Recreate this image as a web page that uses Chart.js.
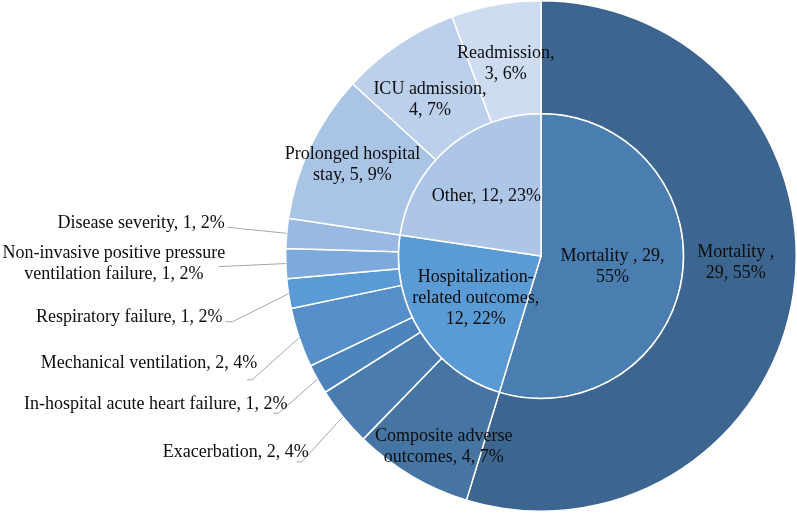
<!DOCTYPE html>
<html>
<head>
<meta charset="utf-8">
<script src="https://cdn.jsdelivr.net/npm/chart.js@4"></script>
<style>
  html, body { margin: 0; padding: 0; background: #fff; }
  canvas { display: block; }
</style>
</head>
<body>
<canvas id="myChart" width="797" height="513"></canvas>
<script>
// inner ring: outcome groups
const groupLabels = ['Mortality ', 'Hospitalization-related outcomes', 'Other'];
const groupCounts = [29, 12, 12];
const groupPercents = [55, 22, 23];

// outer ring: individual outcomes
const outcomeLabels = [
  'Mortality ', 'Composite adverse outcomes', 'Exacerbation', 'In-hospital acute heart failure',
  'Mechanical ventilation', 'Respiratory failure', 'Non-invasive positive pressure ventilation failure',
  'Disease severity', 'Prolonged hospital stay', 'ICU admission', 'Readmission'
];
const outcomeCounts = [29, 4, 2, 1, 2, 1, 1, 1, 5, 4, 3];
const outcomePercents = [55, 7, 4, 2, 4, 2, 2, 2, 9, 7, 6];

const groupColors = ['#4A7EB1', '#5B9BD5', '#ADC5E6'];
const outcomeColors = ['#3C6690', '#4675A4', '#4A7CAF', '#4E84BC', '#558EC9', '#5B9BD5',
  '#7DA9DC', '#99B9E2', '#AAC4E6', '#BCD0EC', '#CDDCF0'];

// label placement (offsets from the arc anchor point)
const groupLayout = [
  { mode: 'in', dx: 1, dy: 0, wrap: 110 },
  { mode: 'in', dx: -5, dy: 4, wrap: 132 },
  { mode: 'in', dx: -8, dy: -6, wrap: 200 }
];
const outcomeLayout = [
  { mode: 'in', dx: -2, dy: -23, wrap: 90 },
  { mode: 'in', dx: 4, dy: 19, wrap: 145 },
  { mode: 'out', align: 'right', tx: -34, ty: 35, ex: -41, ey: 45, tick: 5 },
  { mode: 'out', align: 'right', tx: -30, ty: 25, ex: -39, ey: 34, tick: 5 },
  { mode: 'out', align: 'right', tx: -42, ty: 26, ex: -47, ey: 42, tick: 5 },
  { mode: 'out', align: 'right', tx: -66, ty: 24, ex: -56, ey: 28, tick: 7 },
  { mode: 'out', align: 'center', tx: -172, ty: 0, ex: -67, ey: 3, tick: 0, wrap: 226 },
  { mode: 'out', align: 'right', tx: -62, ty: -10, ex: -59, ey: -6, tick: 0 },
  { mode: 'in', dx: -9, dy: -6, wrap: 140 },
  { mode: 'in', dx: 0, dy: 9, wrap: 116 },
  { mode: 'in', dx: 0, dy: 4, wrap: 102 }
];

const FONT = '18px "Liberation Serif", "Times New Roman", serif';
const LINE_H = 21;

function wrapText(ctx, text, maxWidth) {
  // split on spaces, and allow a break right after a hyphen
  const marked = text.replace(/-/g, '-\u0000');
  const words = marked.split(/ |\u0000/);
  const seps = [];
  marked.replace(/ |\u0000/g, (m) => { seps.push(m === ' ' ? ' ' : ''); return m; });
  const lines = [];
  let cur = words[0];
  for (let i = 1; i < words.length; i++) {
    const trial = cur + seps[i - 1] + words[i];
    if (ctx.measureText(trial).width > maxWidth) {
      lines.push(cur);
      cur = words[i];
    } else {
      cur = trial;
    }
  }
  lines.push(cur);
  return lines;
}

const sunburstLabels = {
  id: 'sunburstLabels',
  afterDatasetsDraw(chart) {
    const ctx = chart.ctx;
    ctx.save();
    ctx.font = FONT;
    ctx.fillStyle = '#0D0D0D';
    ctx.textBaseline = 'middle';
    const sets = [
      { meta: chart.getDatasetMeta(0), names: outcomeLabels, counts: outcomeCounts, pcts: outcomePercents, layout: outcomeLayout },
      { meta: chart.getDatasetMeta(1), names: groupLabels, counts: groupCounts, pcts: groupPercents, layout: groupLayout }
    ];
    sets.forEach((s) => {
      s.meta.data.forEach((arc, i) => {
        const p = arc.getProps(['x', 'y', 'startAngle', 'endAngle', 'innerRadius', 'outerRadius'], true);
        const mid = (p.startAngle + p.endAngle) / 2;
        const L = s.layout[i];
        const text = s.names[i] + ', ' + s.counts[i] + ', ' + s.pcts[i] + '%';
        const lines = wrapText(ctx, text, L.wrap || 1000);
        if (L.mode === 'in') {
          const r = (p.innerRadius + p.outerRadius) / 2;
          const cx = p.x + Math.cos(mid) * r + L.dx;
          const cy = p.y + Math.sin(mid) * r + L.dy;
          ctx.textAlign = 'center';
          lines.forEach((ln, k) => {
            ctx.fillText(ln, cx, cy + (k - (lines.length - 1) / 2) * LINE_H);
          });
        } else {
          const ax = p.x + Math.cos(mid) * p.outerRadius;
          const ay = p.y + Math.sin(mid) * p.outerRadius;
          // leader line
          ctx.strokeStyle = '#A6A6A6';
          ctx.lineWidth = 1;
          ctx.beginPath();
          ctx.moveTo(ax, ay);
          ctx.lineTo(ax + L.ex, ay + L.ey);
          if (L.tick) ctx.lineTo(ax + L.ex - L.tick, ay + L.ey);
          ctx.stroke();
          ctx.textAlign = L.align;
          const tx = ax + L.tx;
          const ty = ay + L.ty;
          lines.forEach((ln, k) => {
            ctx.fillText(ln, tx, ty + (k - (lines.length - 1) / 2) * LINE_H);
          });
        }
      });
    });
    ctx.restore();
  }
};

const data = {
  labels: outcomeLabels,
  datasets: [
    {
      label: 'Outcomes',
      data: outcomeCounts,
      backgroundColor: outcomeColors,
      borderColor: '#FFFFFF',
      borderWidth: 1.5,
      weight: 113
    },
    {
      label: 'Groups',
      data: groupCounts,
      backgroundColor: groupColors,
      borderColor: '#FFFFFF',
      borderWidth: 1.5,
      weight: 143
    }
  ]
};

const config = {
  type: 'doughnut',
  data: data,
  options: {
    responsive: false,
    animation: false,
    cutout: 0,
    layout: { padding: { left: 285, right: 0, top: 0, bottom: 1 } },
    plugins: {
      legend: { display: false },
      tooltip: { enabled: false }
    }
  },
  plugins: [sunburstLabels]
};

const ctx = document.getElementById('myChart').getContext('2d');
new Chart(ctx, config);
</script>
</body>
</html>
